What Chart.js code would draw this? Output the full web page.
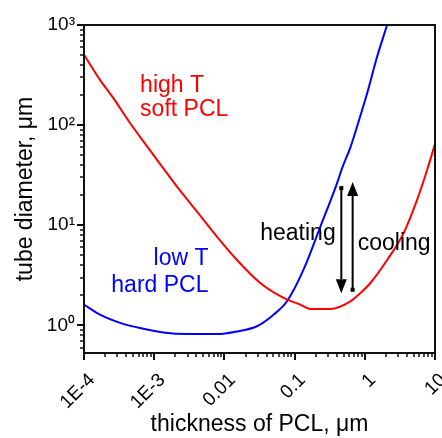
<!DOCTYPE html>
<html>
<head>
<meta charset="utf-8">
<script src="https://cdn.jsdelivr.net/npm/chart.js@4"></script>
<style>
	body { margin: 0; background: #fff; }
	canvas { display: block; }
</style>
</head>
<body>
<canvas id="chart" width="442" height="438"></canvas>
<script>
// high T, soft PCL
let redX = [0.0001, 0.000169, 0.000262, 0.000453, 0.000783, 0.00135, 0.0021, 0.00452, 0.00782, 0.0151, 0.0324, 0.0697, 0.1205, 0.1675, 0.323, 0.624, 0.865, 1.2, 2.08, 3.59, 5.57, 7.74, 10];
let redY = [505, 283, 186, 105, 62, 37, 24.4, 12.5, 7.7, 4.5, 2.65, 1.88, 1.61, 1.46, 1.46, 1.74, 2.1, 2.65, 4.5, 8.4, 18, 35.8, 65];

// low T, hard PCL
let blueX = [0.0001, 0.000169, 0.000327, 0.00063, 0.00135, 0.00292, 0.00782, 0.0151, 0.0291, 0.0501, 0.078, 0.134, 0.233, 0.403, 0.474, 0.624, 0.776, 1.08, 1.5, 2.08];
let blueY = [1.61, 1.28, 1.06, 0.94, 0.85, 0.82, 0.82, 0.87, 0.98, 1.28, 1.74, 3.6, 9.7, 26.4, 37, 60, 97, 208, 484, 1000];

let xTickValues = [1e-4, 1e-3, 0.01, 0.1, 1, 10];
let xTickLabels = ['1E-4', '1E-3', '0.01', '0.1', '1', '10'];
let yTickValues = [1, 10, 100, 1000];
let yTickLabels = ['10\u2070', '10\u00b9', '10\u00b2', '10\u00b3'];

let notes = [
	{ text: 'high T', x: 6.3e-4, y: 216, color: '#ff0000', align: 'left' },
	{ text: 'soft PCL', x: 6.3e-4, y: 122, color: '#ff0000', align: 'left' },
	{ text: 'low T', x: 5.93e-3, y: 4.03, color: '#0000ff', align: 'right' },
	{ text: 'hard PCL', x: 5.93e-3, y: 2.18, color: '#0000ff', align: 'right' },
	{ text: 'heating', x: 0.0324, y: 7.17, color: '#000', align: 'left' },
	{ text: 'cooling', x: 0.792, y: 5.69, color: '#000', align: 'left' }
];

// x, start, tip
let arrows = [
	{ x: 0.463, from: 23.5, to: 2.10 },
	{ x: 0.671, from: 2.27, to: 27.0 }
];

const FONT = "'Liberation Sans', Arial, sans-serif";

function toPoints(xs, ys) {
	return xs.map((x, i) => ({ x: x, y: ys[i] }));
}

function logTicks(min, max) {
	let out = [];
	for (let d = Math.floor(Math.log10(min)); d <= Math.ceil(Math.log10(max)); d++) {
		for (let m = 1; m < 10; m++) {
			let v = m * Math.pow(10, d);
			if (v >= min * 0.999 && v <= max * 1.001) out.push(v);
		}
	}
	return out;
}

function findMajor(values, v) {
	return values.findIndex(t => Math.abs(Math.log10(t) - Math.log10(v)) < 1e-6);
}

let framePlugin = {
	id: 'frame',
	afterDatasetsDraw(chart) {
		let { ctx, chartArea: a, scales } = chart;
		ctx.save();
		ctx.strokeStyle = '#111';
		ctx.lineWidth = 2;
		ctx.strokeRect(a.left, a.top, a.right - a.left, a.bottom - a.top);

		scales.x.ticks.forEach(t => {
			let px = Math.round(scales.x.getPixelForValue(t.value));
			let major = findMajor(xTickValues, t.value) >= 0;
			ctx.lineWidth = major ? 2 : 1.5;
			ctx.beginPath();
			ctx.moveTo(px, a.bottom);
			ctx.lineTo(px, a.bottom + (major ? 7 : 4));
			ctx.stroke();
		});
		scales.y.ticks.forEach(t => {
			let py = Math.round(scales.y.getPixelForValue(t.value));
			let major = findMajor(yTickValues, t.value) >= 0;
			ctx.lineWidth = major ? 2 : 1.5;
			ctx.beginPath();
			ctx.moveTo(a.left, py);
			ctx.lineTo(a.left - (major ? 7 : 4), py);
			ctx.stroke();
		});

		// arrows
		ctx.fillStyle = '#000';
		ctx.strokeStyle = '#000';
		arrows.forEach(ar => {
			let px = scales.x.getPixelForValue(ar.x);
			let p0 = scales.y.getPixelForValue(ar.from);
			let p1 = scales.y.getPixelForValue(ar.to);
			let dir = p1 > p0 ? 1 : -1;
			let head = 14;
			ctx.lineWidth = 2;
			ctx.beginPath();
			ctx.moveTo(px, p0);
			ctx.lineTo(px, p1 - dir * head);
			ctx.stroke();
			ctx.beginPath();
			ctx.moveTo(px, p1);
			ctx.lineTo(px - 5.5, p1 - dir * head);
			ctx.lineTo(px + 5.5, p1 - dir * head);
			ctx.closePath();
			ctx.fill();
			ctx.fillRect(px - 2, p0 - 2, 4, 4);
		});

		// text labels
		ctx.font = '23px ' + FONT;
		ctx.textBaseline = 'alphabetic';
		notes.forEach(n => {
			ctx.fillStyle = n.color;
			ctx.textAlign = n.align;
			ctx.fillText(n.text, scales.x.getPixelForValue(n.x), scales.y.getPixelForValue(n.y));
		});
		ctx.restore();
	}
};

let ctx = document.getElementById('chart');

let chart = new Chart(ctx, {
	type: 'scatter',
	data: {
		datasets: [
			{
				data: toPoints(redX, redY),
				showLine: true,
				borderColor: '#ff0000',
				borderWidth: 2,
				pointRadius: 0,
				cubicInterpolationMode: 'monotone'
			},
			{
				data: toPoints(blueX, blueY),
				showLine: true,
				borderColor: '#0000ff',
				borderWidth: 2,
				pointRadius: 0,
				cubicInterpolationMode: 'monotone'
			}
		]
	},
	options: {
		responsive: false,
		animation: false,
		devicePixelRatio: 1,
		layout: {
			padding: { top: 25, right: 7, left: 0, bottom: 0 }
		},
		plugins: {
			legend: { display: false },
			tooltip: { enabled: false }
		},
		scales: {
			x: {
				type: 'logarithmic',
				position: 'bottom',
				min: 1e-4,
				max: 10,
				afterBuildTicks: (scale) => {
					scale.ticks = logTicks(1e-4, 10).map(v => ({ value: v }));
				},
				afterFit: (scale) => {
					scale.height = 85;
					scale.paddingRight = 0;
					scale.paddingLeft = 0;
				},
				grid: {
					drawOnChartArea: false,
					drawTicks: true,
					tickLength: 7,
					color: 'rgba(0,0,0,0)'
				},
				border: { display: false },
				ticks: {
					autoSkip: false,
					minRotation: 45,
					maxRotation: 45,
					padding: 9,
					labelOffset: 8,
					color: '#000',
					font: { family: FONT, size: 19 },
					callback: (value) => {
						let i = findMajor(xTickValues, value);
						return i >= 0 ? xTickLabels[i] : '';
					}
				},
				title: {
					display: true,
					text: 'thickness of PCL, \u03bcm',
					color: '#000',
					font: { family: FONT, size: 23 },
					padding: { top: 0, bottom: 0 }
				}
			},
			y: {
				type: 'logarithmic',
				min: 0.53,
				max: 1000,
				afterBuildTicks: (scale) => {
					scale.ticks = logTicks(0.53, 1000).map(v => ({ value: v }));
				},
				afterFit: (scale) => {
					scale.width = 84;
				},
				grid: {
					drawOnChartArea: false,
					drawTicks: true,
					tickLength: 7,
					color: 'rgba(0,0,0,0)'
				},
				border: { display: false },
				ticks: {
					autoSkip: false,
					padding: 2,
					color: '#000',
					font: { family: FONT, size: 19 },
					callback: (value) => {
						let i = findMajor(yTickValues, value);
						return i >= 0 ? yTickLabels[i] : '';
					}
				},
				title: {
					display: true,
					text: 'tube diameter, \u03bcm',
					color: '#000',
					font: { family: FONT, size: 23 },
					padding: { top: 12, bottom: 0 }
				}
			}
		}
	},
	plugins: [framePlugin]
});
</script>
</body>
</html>
